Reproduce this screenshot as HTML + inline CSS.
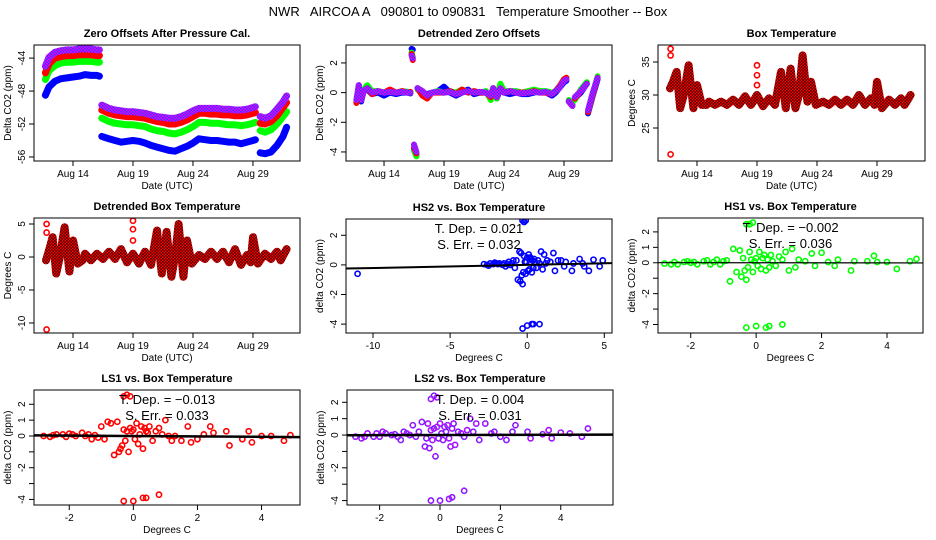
<!DOCTYPE html>
<html><head><meta charset="utf-8"><style>
html,body{margin:0;padding:0;background:#fff;}
svg{display:block;font-family:"Liberation Sans",sans-serif;}
</style></head><body>
<svg id="chart" width="936" height="540" viewBox="0 0 936 540" xmlns="http://www.w3.org/2000/svg">
<defs>
<pattern id="chkP" width="3" height="3" patternUnits="userSpaceOnUse"><rect width="3" height="3" fill="#ff00ff"/><rect width="1.5" height="1.5" fill="#3030ff"/><rect x="1.5" y="1.5" width="1.5" height="1.5" fill="#3030ff"/></pattern>
<pattern id="chkR" width="3" height="3" patternUnits="userSpaceOnUse"><rect width="3" height="3" fill="#ff0000"/><rect width="1.5" height="1.5" fill="#400000"/><rect x="1.5" y="1.5" width="1.5" height="1.5" fill="#400000"/></pattern>
</defs>
<text x="468" y="16" text-anchor="middle" font-size="13" style="white-space:pre">NWR   AIRCOA A   090801 to 090831   Temperature Smoother -- Box</text>
</svg>
<script>
// ---- time series data (day of August) ----
const zoT = [11.7,12,12.5,13,13.5,14,14.5,15,15.5,16,16.2,null,16.4,17,17.5,18,18.5,19,19.5,20,20.5,21,21.5,22,22.5,23,23.5,24,24.5,25,25.5,26,26.5,27,27.5,28,28.5,29,29.2,null,29.6,30,30.5,31,31.5,31.8];
const zoBlue = [-48.5,-47.5,-46.8,-46.5,-46.4,-46.3,-46.2,-46.0,-46.1,-46.1,-46.2,null,-53.5,-53.8,-54.0,-54.2,-54.1,-54.0,-54.1,-54.3,-54.6,-54.8,-55.0,-55.2,-55.3,-55.0,-54.7,-54.3,-53.8,-53.9,-54.0,-54.0,-54.1,-54.2,-54.2,-54.4,-54.2,-54.0,-53.9,null,-55.5,-55.6,-55.4,-54.6,-53.5,-52.4];
const zoGreen = [-46.6,-45.5,-44.9,-44.6,-44.5,-44.5,-44.4,-44.4,-44.4,-44.5,-44.5,null,-51.3,-51.7,-51.9,-52.0,-52.1,-52.1,-52.2,-52.3,-52.6,-52.8,-52.9,-53.1,-53.2,-53.0,-52.7,-52.3,-51.8,-51.8,-51.9,-51.9,-52.0,-52.1,-52.1,-52.2,-52.1,-51.9,-51.8,null,-52.8,-53.0,-52.7,-52.0,-51.1,-50.5];
const zoRed = [-45.8,-44.7,-44.0,-43.8,-43.7,-43.7,-43.6,-43.6,-43.6,-43.7,-43.7,null,-50.3,-50.7,-50.9,-51.0,-51.1,-51.1,-51.2,-51.3,-51.5,-51.7,-51.8,-52.0,-52.0,-51.8,-51.5,-51.1,-50.7,-50.7,-50.8,-50.8,-50.9,-50.9,-51.0,-51.0,-50.9,-50.7,-50.6,null,-51.9,-52.0,-51.7,-51.0,-50.0,-49.4];
const zoPurple = [-45.0,-43.9,-43.3,-43.1,-43.0,-43.0,-42.9,-42.9,-42.9,-43.0,-43.0,null,-49.7,-50.1,-50.3,-50.4,-50.5,-50.5,-50.6,-50.7,-50.9,-51.1,-51.2,-51.3,-51.3,-51.1,-50.8,-50.4,-50.1,-50.1,-50.1,-50.1,-50.2,-50.2,-50.3,-50.3,-50.2,-50.0,-49.9,null,-51.1,-51.3,-51.0,-50.2,-49.3,-48.6];

const dzT = [11.7,11.9,12.1,12.3,12.6,13,13.5,14,14.5,15,15.5,16,16.2,null,16.3,16.4,null,16.5,16.7,null,16.8,17.2,17.6,18,18.5,19,19.5,20,20.5,21,21.5,22,22.5,22.9,23.1,23.4,23.7,24,24.5,25,25.5,26,26.5,27,27.5,28,28.3,28.6,29,29.2,null,29.4,29.7,null,29.9,30.4,30.9,null,31.0,31.4,31.8];
const dzPurple = [-0.5,0.5,-0.5,0.1,0.3,0,0.1,0,0.05,0,0.05,0,0,null,2.5,2.3,null,-3.5,-4.0,null,0.3,0.1,-0.2,0,0.05,0,0.05,-0.1,0,0.1,0,0.05,0,-0.2,0.3,-0.3,0.3,0,0.1,0,-0.05,0,0.05,0,0.05,-0.1,0.1,0.3,0.8,0.9,null,-0.6,-0.9,null,-0.3,0.1,0.6,null,-1.2,0,1.0];
const dzBlue = [-0.6,0.5,-0.6,0.1,0.2,-0.1,0,-0.2,0,-0.1,0,0,-0.05,null,2.95,2.9,null,-3.8,-4.2,null,0.3,0,-0.1,0,0.1,0.4,0,-0.2,0,0.2,-0.1,0,0,-0.3,0.3,-0.4,0.3,0,-0.1,0,-0.1,-0.1,0,0.1,0,-0.2,0,0.3,0.7,0.8,null,-0.6,-0.8,null,-0.4,0,0.6,null,-1.4,-0.2,0.9];
const dzGreen = [-0.6,0.4,-0.5,0.2,0.5,0.1,0.1,0,0.1,0,0.1,0.05,0,null,2.7,2.4,null,-3.9,-4.3,null,0.2,0.1,-0.3,0,0.1,0,0.1,0,0.2,0,0.1,0,0.1,-0.5,0.2,-0.4,0.6,0.1,0.1,0.1,0,0.1,0.2,0.1,0.1,0,0.1,0.3,0.9,1.0,null,-0.5,-0.7,null,-0.5,0.2,0.7,null,-1.3,-0.1,1.1];
const dzRed = [-0.7,0.4,-0.5,0.1,0.3,-0.1,0.1,0,0.2,0,0.1,0,0.05,null,2.6,2.2,null,-3.7,-4.1,null,0.3,-0.2,-0.4,0,0,0,0.1,-0.1,0.2,0,0.1,0,0,-0.3,0.3,-0.3,0.3,0,0.1,0,0,0,0.1,0,0,-0.1,0.1,0.4,0.9,1.0,null,-0.6,-0.9,null,-0.4,0.1,0.6,null,-1.3,-0.1,1.0];

const boxDay = [11.75,12.0,12.3,12.6,12.9,13.3,13.7,14.0,14.4,14.8,15.0,15.5,16.0,16.5,17.0,17.5,18.0,18.5,19.0,19.5,20.0,20.5,21.0,21.4,21.8,22.2,22.5,22.8,23.2,23.5,23.9,24.5,25.0,25.5,26.0,26.5,27.0,27.5,28.0,28.5,28.8,29.0,29.4,30.0,30.5,31.0,31.3,31.8];
const boxTemp = [31,32,33.5,28,30,34.5,28,31.5,28.5,28.5,29,28.5,29,28.5,29.3,28.5,29.8,28.5,30,28.3,29.5,28.5,33.5,28,34,28,30,36,29,32,28.5,29,28.5,29.3,28.5,29.3,28.5,30,28.5,29.5,28.5,32,28,29.3,28.5,29.5,28.5,30];
const boxDetr = [-0.5,1,3,-2.5,0,4.5,-2.2,2.5,-1,-0.5,0.5,-0.5,0.5,-0.3,0.8,-0.3,1.2,-0.8,0.5,-1,0.8,-1.2,4,-2.5,3.8,-3,0,5,-3,2.5,-1,0.3,-0.3,0.8,-0.3,0.8,-0.8,1.2,-1.2,0.3,-0.8,3,-1,0.5,-0.3,0.8,-0.5,1.2];
const outDay = [11.8,11.8,11.8,19.0,19.0,19.0];
const outTemp = [37,36,21,34.5,33,31.5];
const outDetr = [5,3.7,-11,5.5,4.2,2.5];

// ---- scatter data ----
const tempX = [-11,-2.8,-2.6,-2.5,-2.4,-2.2,-2.1,-2.0,-1.9,-1.8,-1.6,-1.5,-1.4,-1.3,-1.2,-1.1,-1.0,-0.9,-0.8,-0.7,-0.6,-0.5,-0.45,-0.4,-0.35,-0.3,-0.25,-0.2,-0.15,-0.1,-0.05,0,0.05,0.1,0.15,0.2,0.25,0.3,0.35,0.4,0.45,0.5,0.6,0.7,0.8,0.9,1.0,1.1,1.2,1.3,1.5,1.7,1.8,2.0,2.2,2.4,2.5,2.9,3.0,3.4,3.6,3.7,4.0,4.3,4.7,4.9,-0.3,-0.2,-0.1,-0.3,0.0,0.3,0.4,0.8];
const hs2Y = [-0.6,0.05,0,-0.05,0.1,0.05,0.15,0.1,0.05,0.1,0,0.1,-0.1,0.05,0.2,0,0.1,0.3,-0.2,0.3,-1.0,0.9,-1.1,0.8,-0.7,-1.3,-0.5,0.6,0.2,-0.6,0.2,0.5,-0.4,0.7,-0.3,0.5,0.4,-0.5,0.3,-0.2,0.4,0.2,-0.2,0.3,0.1,0.9,-0.3,0.7,0.1,0.3,0.2,0.8,-0.4,0.3,0.3,-0.1,0.2,-0.4,0.1,0.4,0.1,-0.1,-0.4,0.35,-0.1,0.3,3.0,2.9,3.0,-4.3,-4.1,-4.0,-4.0,-4.0];
const hs1Y = [-0.6,-0.05,-0.1,0.05,-0.1,0.05,0.1,0,0.05,-0.1,0.1,0.15,-0.1,0.05,0.2,-0.1,0.1,0.15,-1.2,0.9,-0.6,0.8,-0.9,0.3,-0.5,-1.1,-0.3,0.7,0.2,-0.6,0.1,0.3,-0.2,0.7,-0.4,0.3,0.5,-0.5,0.2,-0.3,0.5,0.1,-0.2,0.4,0.2,0.7,-0.5,0.9,-0.3,0.2,0.1,0.6,-0.2,0.65,0.05,-0.2,0.2,-0.5,0.1,0.1,0.45,0.05,0.05,-0.4,0.1,0.25,2.5,2.5,2.6,-4.2,-4.1,-4.2,-4.1,-4.0];
const ls1Y = [0.1,0,-0.05,0.05,0.1,0.1,-0.05,0.15,0.1,0,0.2,0,0.1,-0.2,0.05,-0.1,0.6,-0.2,0.9,0.8,-1.2,0.9,-1.0,-0.8,-0.6,0.4,-0.3,0.3,-1.0,0.5,0.3,0.4,-0.2,0.8,-0.5,0.1,0.6,-0.8,0.5,0.3,0.2,0.6,-0.3,0.3,0.5,0.1,1.0,0,-0.3,0,-0.3,0.6,-0.4,-0.2,0.1,0.6,0.2,0.3,-0.6,-0.2,0.3,-0.4,0,0,-0.3,0.05,2.5,2.6,2.5,-4.1,-4.1,-3.9,-3.9,-3.7];
const ls2Y = [0.1,-0.1,-0.2,-0.1,0.1,-0.1,0.1,-0.1,0.2,0.1,0,0.05,-0.1,-0.3,0.2,0.1,0,0.6,-0.1,0.2,0.8,-0.7,-0.2,0.7,-0.8,0.3,-0.3,0.4,-1.3,0.5,-0.2,0.7,0.1,-0.3,0.5,0.2,0.6,-0.2,-0.7,0.4,0.7,-0.6,0.2,0.1,-0.1,0.3,1.0,0.2,0.7,-0.3,0.7,0.1,0.2,-0.1,-0.3,0.2,0.6,0.2,-0.2,0.05,0.3,-0.2,0.15,0.1,-0.1,0.4,2.2,2.4,2.3,-4.0,-4.0,-3.9,-3.8,-3.4];
const slopes = [0.021,-0.002,-0.013,0.004];
const dateTicks = [14,19,24,29];
const dateLabels = ["Aug 14","Aug 19","Aug 24","Aug 29"];

const NS = "http://www.w3.org/2000/svg";
const svg = document.getElementById('chart');
function mk(tag, attrs, parent){
  const e = document.createElementNS(NS, tag);
  for (const k in attrs) e.setAttribute(k, attrs[k]);
  (parent || svg).appendChild(e);
  return e;
}
let clipN = 0;
function panel(name, L, R, T, B, x0, x1, y0, y1, title, xt, yt){
  const g = mk('g', {});
  
  
  const p = {g, L, R, T, B,
    sx: v => L + (v - x0) / (x1 - x0) * (R - L),
    sy: v => B - (v - y0) / (y1 - y0) * (B - T)};
  const cid = 'clip' + (clipN++);
  const cp = mk('clipPath', {id: cid}, g);
  mk('rect', {x: L, y: T, width: R - L, height: B - T}, cp);
  p.plot = mk('g', {'clip-path': 'url(#' + cid + ')'}, g);
  
  
  const box = mk('rect', {x: L, y: T, width: R - L, height: B - T, fill: 'none', stroke: '#000', 'stroke-width': 1}, g);
  
  
  const tt = mk('text', {x: (L + R) / 2, y: T - 8, 'text-anchor': 'middle', 'font-size': 11, 'font-weight': 'bold'}, g);
  tt.textContent = title;
  
  
  const xl = mk('text', {x: (L + R) / 2, y: B + 28, 'text-anchor': 'middle', 'font-size': 10}, g);
  xl.textContent = xt;
  
  
  const yl = mk('text', {x: 0, y: 0, 'text-anchor': 'middle', 'font-size': 10, transform: 'translate(' + (L - 23) + ',' + ((T + B) / 2) + ') rotate(-90)'}, g);
  yl.textContent = yt;
  
  
  return p;
}
function xTicks(p, vals, labels){
  vals.forEach((v, i) => {
    const x = p.sx(v);
    const t = mk('line', {x1: x, x2: x, y1: p.B, y2: p.B + 5, stroke: '#000'}, p.g);
    
    
    const lb = mk('text', {x: x, y: p.B + 16, 'text-anchor': 'middle', 'font-size': 10}, p.g);
    lb.textContent = labels[i];
    
    
  });
}
function yTicks(p, vals, labels){
  vals.forEach((v, i) => {
    const y = p.sy(v);
    const t = mk('line', {x1: p.L - 5, x2: p.L, y1: y, y2: y, stroke: '#000'}, p.g);
    
    
    if (labels[i] !== '') {
      const lb = mk('text', {x: 0, y: 0, 'text-anchor': 'middle', 'font-size': 10, transform: 'translate(' + (p.L - 9) + ',' + y + ') rotate(-90)'}, p.g);
      lb.textContent = labels[i];
      
      
    }
  });
}
function series(p, xs, ys, stroke, w, name){
  let d = '', pen = false;
  for (let i = 0; i < xs.length; i++) {
    if (xs[i] === null || ys[i] === null || ys[i] === undefined) { pen = false; continue; }
    const x = p.sx(xs[i]), y = p.sy(ys[i]);
    d += (pen ? 'L' : 'M') + x.toFixed(1) + ' ' + y.toFixed(1) + ' ';
    if (!pen && (i + 1 >= xs.length || xs[i + 1] === null)) d += 'l0.1 0 ';
    pen = true;
  }
  const path = mk('path', {d: d, fill: 'none', stroke: stroke, 'stroke-width': w, 'stroke-linecap': 'round', 'stroke-linejoin': 'round'}, p.plot);
  
  
}
function points(p, xs, ys, color, name){
  for (let i = 0; i < Math.min(xs.length, ys.length); i++) {
    const c = mk('circle', {cx: p.sx(xs[i]), cy: p.sy(ys[i]), r: 2.6, fill: 'none', stroke: color, 'stroke-width': 1.6}, p.plot);
    
    
  }
}

// Panel 1
const p1 = panel('zero-offsets-panel', 34, 300, 45, 161, 10.75, 32.92, -56.49, -42.41, 'Zero Offsets After Pressure Cal.', 'Date (UTC)', 'Delta CO2 (ppm)');
xTicks(p1, dateTicks, dateLabels);
yTicks(p1, [-44, -48, -52, -56], ['-44', '-48', '-52', '-56']);
series(p1, zoT, zoBlue, '#0000ff', 7, 'series-hs2');
series(p1, zoT, zoGreen, '#00ff00', 7, 'series-hs1');
series(p1, zoT, zoRed, '#ff0000', 7, 'series-ls1');
series(p1, zoT, zoPurple, 'url(#chkP)', 7, 'series-ls2');

// Panel 2
const p2 = panel('detrended-zero-offsets-panel', 346, 612, 45, 161, 10.83, 33, -4.61, 3.21, 'Detrended Zero Offsets', 'Date (UTC)', 'Delta CO2 (ppm)');
xTicks(p2, dateTicks, dateLabels);
yTicks(p2, [2, 0, -2, -4], ['2', '0', '-2', '-4']);
series(p2, dzT, dzBlue, '#0000ff', 6, 'series-hs2');
series(p2, dzT, dzGreen, '#00ff00', 6, 'series-hs1');
series(p2, dzT, dzRed, '#ff0000', 6, 'series-ls1');
series(p2, dzT, dzPurple, 'url(#chkP)', 6, 'series-ls2');

// Panel 3
const p3 = panel('box-temperature-panel', 658, 925, 45, 161, 10.75, 33, 20.0, 37.58, 'Box Temperature', 'Date (UTC)', 'Degrees C');
xTicks(p3, dateTicks, dateLabels);
yTicks(p3, [35, 30, 25], ['35', '30', '25']);
series(p3, boxDay, boxTemp, 'url(#chkR)', 8, 'series-box-temp');
points(p3, outDay, outTemp, '#ff0000', 'outlier-point');

// Panel 4
const p4 = panel('detrended-box-temperature-panel', 34, 300, 218, 333, 10.75, 32.92, -11.52, 5.91, 'Detrended Box Temperature', 'Date (UTC)', 'Degrees C');
xTicks(p4, dateTicks, dateLabels);
yTicks(p4, [5, 0, -5, -10], ['5', '0', '-5', '-10']);
series(p4, boxDay, boxDetr, 'url(#chkR)', 8, 'series-detrended-temp');
points(p4, outDay, outDetr, '#ff0000', 'outlier-point');

function scatterPanel(name, L, R, T, B, x0, x1, y0, y1, title, ys, color, slope, lw, xt, xl, ytv, ytl){
  const p = panel(name, L, R, T, B, x0, x1, y0, y1, title, 'Degrees C', 'delta CO2 (ppm)');
  xTicks(p, xt, xl);
  yTicks(p, ytv, ytl);
  points(p, tempX, ys, color, 'scatter-point');
  const ln = mk('line', {x1: p.sx(x0), y1: p.sy(slope * x0), x2: p.sx(x1), y2: p.sy(slope * x1), stroke: '#000', 'stroke-width': lw}, p.plot);
  
  
  const cx = (L + R) / 2;
  const t1 = mk('text', {x: cx, y: T + 14, 'text-anchor': 'middle', 'font-size': 13}, p.g);
  t1.textContent = 'T. Dep. =  ' + slope.toFixed(3).replace('-', '\u2212');
  
  
  return p;
}
const yv5 = [2, 1, 0, -1, -2, -3, -4], yl5 = ['2', '1', '0', '', '-2', '', '-4'];
const s1 = scatterPanel('hs2-vs-box-temp-panel', 346, 612, 219, 333, -11.75, 5.5, -4.6, 3.1, 'HS2 vs. Box Temperature', hs2Y, '#0000ff', slopes[0], 2, [-10, -5, 0, 5], ['-10', '-5', '0', '5'], [2, 0, -2, -4], ['2', '0', '-2', '-4']);
const s2 = scatterPanel('hs1-vs-box-temp-panel', 658, 923, 218, 333, -3.0, 5.1, -4.55, 2.9, 'HS1 vs. Box Temperature', hs1Y, '#00ff00', slopes[1], 1.2, [-2, 0, 2, 4], ['-2', '0', '2', '4'], yv5, yl5);
const s3 = scatterPanel('ls1-vs-box-temp-panel', 34, 300, 390, 505, -3.1, 5.2, -4.35, 2.9, 'LS1 vs. Box Temperature', ls1Y, '#ff0000', slopes[2], 2.5, [-2, 0, 2, 4], ['-2', '0', '2', '4'], yv5, yl5);
const s4 = scatterPanel('ls2-vs-box-temp-panel', 347, 613, 390, 505, -3.08, 5.73, -4.27, 2.75, 'LS2 vs. Box Temperature', ls2Y, 'url(#chkP)', slopes[3], 2.5, [-2, 0, 2, 4], ['-2', '0', '2', '4'], yv5, yl5);
const errs = ['0.032', '0.036', '0.033', '0.031'];
[s1, s2, s3, s4].forEach((p, i) => {
  const t2 = mk('text', {x: (p.L + p.R) / 2, y: p.T + 30, 'text-anchor': 'middle', 'font-size': 13}, p.g);
  t2.textContent = 'S. Err. =  ' + errs[i];
  
  
});
</script>
</body></html>
